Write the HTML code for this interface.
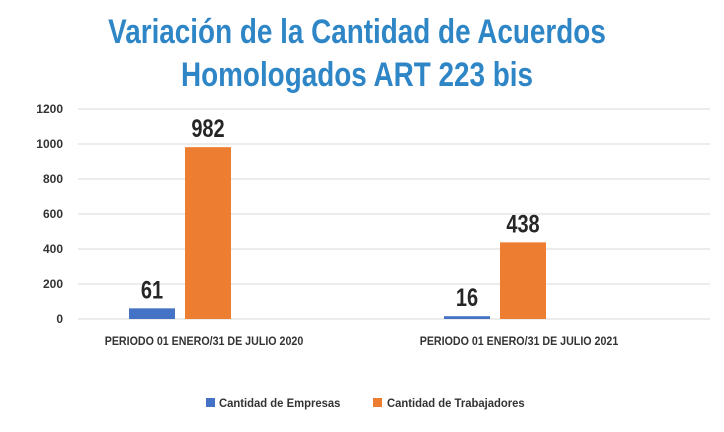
<!DOCTYPE html>
<html><head><meta charset="utf-8"><style>
body{margin:0;background:#fff;}
svg{display:block;font-family:"Liberation Sans",sans-serif;}
</style></head><body>
<svg width="724" height="432" id="chart">
<g fill="#2f86c6" font-weight="bold" font-size="34" text-anchor="middle">
<text x="357" y="43" transform="translate(357 0) scale(0.82 1) translate(-357 0)">Variación de la Cantidad de Acuerdos</text>
<text x="357" y="86" transform="translate(357 0) scale(0.82 1) translate(-357 0)">Homologados ART 223 bis</text>
</g>
<g id="grid"></g><g id="bars"></g>
<g font-size="12" font-weight="bold" fill="#333">
<rect x="206" y="398" width="9" height="9" fill="#4472c4"/>
<text x="219" y="407" transform="translate(219 0) scale(0.94 1) translate(-219 0)">Cantidad de Empresas</text>
<rect x="373" y="398" width="9" height="9" fill="#ed7d31"/>
<text x="387" y="407" transform="translate(387 0) scale(0.94 1) translate(-387 0)">Cantidad de Trabajadores</text>
</g>
</svg>
<script>
const categories = ["PERIODO 01 ENERO/31 DE JULIO 2020","PERIODO 01 ENERO/31 DE JULIO 2021"];
const empresas = [61, 16];
const trabajadores = [982, 438];
const yTicks = [0,200,400,600,800,1000,1200];
const NS="http://www.w3.org/2000/svg";
const y0=319, y1=109, yMax=1200;
function y(v){return y0-(v/yMax)*(y0-y1);}
function xc(i){return 22.5+315*(i+0.5);}
const grid=document.getElementById('grid'), bars=document.getElementById('bars');
function mk(tag,attrs,parent){const e=document.createElementNS(NS,tag);for(const k in attrs)e.setAttribute(k,attrs[k]);parent.appendChild(e);return e;}
yTicks.forEach(t=>{
  const l=mk('line',{x1:78,x2:710,y1:y(t),y2:y(t),stroke:'#d9d9d9','stroke-width':1},grid);
  
  
  const tx=mk('text',{x:63,y:y(t)+4,'text-anchor':'end','font-size':12,'font-weight':'bold',fill:'#333'},grid);
  
  
  tx.textContent=t;
});
const series=[{vals:empresas,color:'#4472c4',off:-28,name:'empresas'},{vals:trabajadores,color:'#ed7d31',off:28,name:'trabajadores'}];
categories.forEach((c,i)=>{
  series.forEach(s=>{
    const v=s.vals[i], cx=xc(i)+s.off;
    const r=mk('rect',{x:cx-23,y:y(v),width:46,height:Math.max(y0-y(v),1.5),fill:s.color},bars);
    
    
    const lb=mk('text',{x:cx,y:y(v)-10,'text-anchor':'middle','font-size':25,'font-weight':'bold',fill:'#262626',transform:`translate(${cx} 0) scale(0.8 1) translate(${-cx} 0)`},bars);
    
    
    lb.textContent=v;
  });
  const cx=xc(i)+24;
  const cl=mk('text',{x:cx,y:345,'text-anchor':'middle','font-size':12,'font-weight':'bold',fill:'#333',transform:`translate(${cx} 0) scale(0.89 1) translate(${-cx} 0)`},bars);
  
  
  cl.textContent=c;
});
</script>
</body></html>
